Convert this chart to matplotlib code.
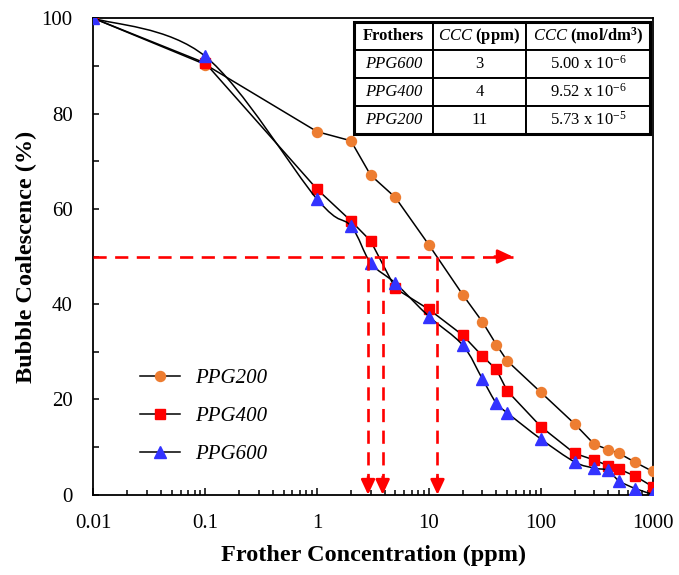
import numpy as np
import matplotlib
matplotlib.use('Agg')
import matplotlib.pyplot as plt
from matplotlib.path import Path
from matplotlib.patches import PathPatch, Rectangle
from matplotlib.lines import Line2D
from matplotlib.ticker import FixedLocator, LogLocator, MultipleLocator, NullFormatter

plt.rcParams['font.family'] = 'Liberation Serif'
plt.rcParams['mathtext.fontset'] = 'custom'
plt.rcParams['mathtext.rm'] = 'Liberation Serif'
plt.rcParams['mathtext.it'] = 'Liberation Serif:italic'
plt.rcParams['mathtext.bf'] = 'Liberation Serif:bold'

# frother concentration (ppm) and bubble coalescence (%)
conc = [0.01, 0.1, 1, 2, 3, 5, 10, 20, 30, 40, 50, 100, 200, 300, 400, 500, 700, 1000]
ppg200 = [100, 90.3, 76.2, 74.3, 67.1, 62.4, 52.4, 42.0, 36.3, 31.5, 28.1, 21.5,
          14.9, 10.6, 9.5, 8.7, 6.8, 4.9]
ppg400 = [100, 90.6, 64.1, 57.5, 53.3, 43.3, 38.9, 33.5, 29.1, 26.3, 21.8, 14.3,
          8.7, 7.3, 6.1, 5.4, 3.9, 1.7]
ppg600 = [100, 92.0, 62.0, 56.4, 48.7, 44.4, 37.4, 31.4, 24.3, 19.2, 17.2, 11.7,
          6.9, 5.6, 5.1, 2.9, 1.3, 0.1]

# CCC read-off arrows
half_level = 50
arrow_end = 56
ccc_marks = [2.85, 3.85, 11.9]

# table
table_cols = ['Frothers', r'$\it{CCC}$ $\bf{(ppm)}$', r'$\it{CCC}$ $\bf{(mol/dm^3)}$']
table_rows = ['PPG600', 'PPG400', 'PPG200']
ccc_ppm = ['3', '4', '11']
ccc_mol = [r'5.00 x 10$^{\mathrm{-6}}$', r'9.52 x 10$^{\mathrm{-6}}$', r'5.73 x 10$^{\mathrm{-5}}$']

ORANGE = '#ED7D31'
RED = '#FF0000'
BLUE = '#3333FF'


def smooth_path(x, y):
    # Excel-like smoothed line: Catmull-Rom as cubic Bezier in log-x space
    pts = np.column_stack([np.log10(x), np.asarray(y, dtype=float)])
    verts = [pts[0]]
    codes = [Path.MOVETO]
    n = len(pts)
    for i in range(n - 1):
        p0 = pts[i - 1] if i > 0 else pts[i]
        p1 = pts[i]
        p2 = pts[i + 1]
        p3 = pts[i + 2] if i + 2 < n else pts[i + 1]
        verts += [p1 + (p2 - p0) / 6, p2 - (p3 - p1) / 6, p2]
        codes += [Path.CURVE4] * 3
    verts = np.array(verts)
    verts[:, 0] = 10 ** verts[:, 0]
    return Path(verts, codes)


fig = plt.figure(figsize=(6.79, 5.75), dpi=100)
ax = fig.add_axes([0.1377, 0.1395, 0.8236, 0.8287])

ax.plot(conc, ppg200, color='black', lw=1.1, marker='o', ms=7.2,
        mfc=ORANGE, mec=ORANGE, zorder=3)
ax.plot(conc, ppg400, color='black', lw=1.1, marker='s', ms=7,
        mfc=RED, mec=RED, zorder=3)
ax.add_patch(PathPatch(smooth_path(conc, ppg600), fill=False, color='black',
                       lw=1.1, zorder=3))
ax.plot(conc, ppg600, ls='none', marker='^', ms=8, mfc=BLUE, mec=BLUE, zorder=4)

# dashed read-off arrows
dash = dict(color=RED, lw=1.9, dashes=(5, 3.2), zorder=5)
ax.plot([conc[0], arrow_end], [half_level, half_level], **dash)
for c in ccc_marks:
    ax.plot([c, c], [half_level, 0], **dash)
head = dict(arrowstyle='-|>,head_length=0.9,head_width=0.42', color=RED,
            lw=1.9, shrinkA=0, shrinkB=0)
ax.annotate('', xy=(arrow_end, half_level), xytext=(-13, 0),
            textcoords='offset points', arrowprops=head, zorder=6)
for c in ccc_marks:
    ax.annotate('', xy=(c, 0), xytext=(0, 13), textcoords='offset points',
                arrowprops=head, zorder=6)

ax.set_xscale('log')
ax.set_xlim(0.01, 1000)
ax.set_ylim(0, 100)
ax.xaxis.set_major_locator(FixedLocator([0.01, 0.1, 1, 10, 100, 1000]))
ax.set_xticklabels(['0.01', '0.1', '1', '10', '100', '1000'])
ax.xaxis.set_minor_locator(LogLocator(base=10, subs=np.arange(2, 10)))
ax.xaxis.set_minor_formatter(NullFormatter())
ax.yaxis.set_major_locator(MultipleLocator(20))
ax.yaxis.set_minor_locator(MultipleLocator(10))
ax.tick_params(which='both', direction='in', top=False, right=False,
               labelsize=15, width=1.1)
ax.tick_params(axis='x', which='major', length=5, pad=14)
ax.tick_params(axis='x', which='minor', length=3.6)
ax.tick_params(axis='y', which='both', length=4.5, pad=15)
for s in ax.spines.values():
    s.set_linewidth(1.3)

ax.set_xlabel('Frother Concentration (ppm)', fontsize=17.5, fontweight='bold', labelpad=8)
ax.set_ylabel('Bubble Coalescence (%)', fontsize=17.5, fontweight='bold', labelpad=3)

handles = [
    Line2D([], [], color='black', lw=1.1, marker='o', ms=7.2, mfc=ORANGE, mec=ORANGE),
    Line2D([], [], color='black', lw=1.1, marker='s', ms=7, mfc=RED, mec=RED),
    Line2D([], [], color='black', lw=1.1, marker='^', ms=8, mfc=BLUE, mec=BLUE),
]
ax.legend(handles, ['PPG200', 'PPG400', 'PPG600'], loc='lower left',
          bbox_to_anchor=(0.05, 0.025), frameon=False, handlelength=1.9,
          handletextpad=0.75, labelspacing=0.88,
          prop={'family': 'Liberation Serif', 'style': 'italic', 'size': 15})

# CCC table
cell_text = [[r, p, m] for r, p, m in zip(table_rows, ccc_ppm, ccc_mol)]
tbl = ax.table(cellText=cell_text, colLabels=table_cols,
               colWidths=[0.267, 0.314, 0.419], cellLoc='center',
               bbox=[0.466, 0.757, 0.529, 0.235], zorder=7)
tbl.auto_set_font_size(False)
for (r, c), cell in tbl.get_celld().items():
    cell.set_linewidth(1.4)
    cell.set_edgecolor('black')
    cell.set_facecolor('white')
    txt = cell.get_text()
    txt.set_fontsize(12)
    if r == 0 and c == 0:
        txt.set_fontweight('bold')
    if r > 0 and c == 0:
        txt.set_fontstyle('italic')
ax.add_patch(Rectangle((0.466, 0.757), 0.529, 0.235, transform=ax.transAxes,
                       fill=False, lw=2.2, ec='black', zorder=8))

fig.savefig('out.png', dpi=100)
